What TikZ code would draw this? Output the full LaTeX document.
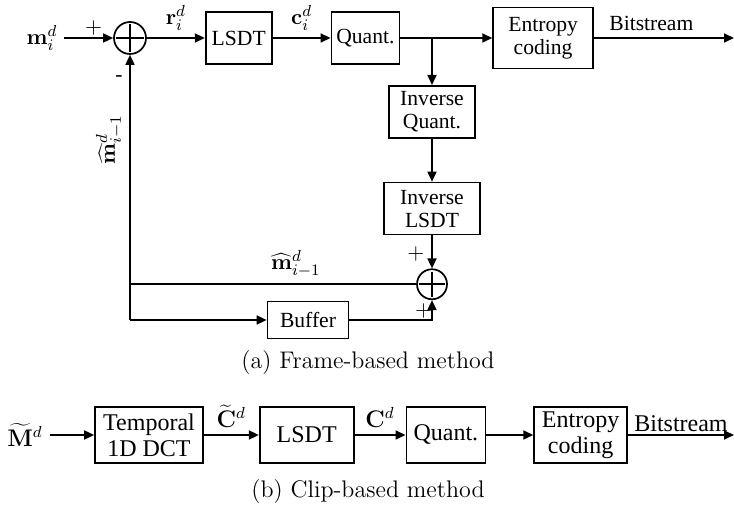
\documentclass[tikz,border=0pt]{standalone}
\usepackage[no-math]{fontspec}
\newfontfamily\tnr{Liberation Serif}
\usetikzlibrary{arrows.meta,positioning}

\begin{document}
\begin{tikzpicture}[
  x=1pt, y=1pt,
  font=\tnr\fontsize{10.8}{11.5}\selectfont,
  block/.style={draw, line width=0.85pt, minimum height=26pt, inner sep=1pt, align=center},
  big/.style={font=\tnr\fontsize{12}{13}\selectfont},
  adder/.style={circle, draw, line width=0.85pt, minimum size=16pt, inner sep=0pt,
    path picture={\draw[line width=0.85pt]
      ([yshift=-1.2pt]path picture bounding box.north) -- ([yshift=1.2pt]path picture bounding box.south)
      ([xshift=1.2pt]path picture bounding box.west) -- ([xshift=-1.2pt]path picture bounding box.east);}},
  flow/.style={-{Triangle[length=5pt,width=4.5pt]}, line width=0.85pt},
  wire/.style={line width=0.85pt},
  caption/.style={font=\rmfamily\fontsize{12}{14}\selectfont}
]
\useasboundingbox (0,0) rectangle (367,254);

% (a) frame-based
\node (min) at (21,235) {$\mathbf{m}_i^d$};
\node[adder] (sum1) at (65,235) {};
\node[block, minimum width=33pt, right=29pt of sum1] (lsdt) {LSDT};
\node[block, minimum width=34pt, right=29pt of lsdt] (quant) {Quant.};
\node[block, minimum width=50pt, minimum height=30.5pt, right=46pt of quant] (ent) {Entropy\\coding};
\coordinate (out) at (367,235);
\coordinate (br) at (216,235);
\node[block, minimum width=43pt, below=23.5pt of br] (invq) {Inverse\\Quant.};
\node[block, minimum width=48pt, below=21.5pt of invq] (invl) {Inverse\\LSDT};
\node[adder, minimum size=15pt, below=16.5pt of invl] (sum2) {};
\node[block, minimum width=40.5pt, minimum height=18.5pt] (buffer) at (154,94) {Buffer};
\coordinate (jn) at (sum1 |- buffer);

\draw[flow] (min) -- node[pos=0.6, above, inner sep=1pt] {$+$} (sum1);
\draw[flow] (sum1) -- node[above] {$\mathbf{r}_i^d$} (lsdt);
\draw[flow] (lsdt) -- node[above] {$\mathbf{c}_i^d$} (quant);
\draw[flow] (quant) -- (ent);
\draw[flow] (ent) -- node[pos=0.41, above] {Bitstream} (out);
\draw[flow] (br) -- (invq);
\draw[flow] (invq) -- (invl);
\draw[flow] (invl) -- node[pos=0.55, left] {$+$} (sum2);
\draw[wire] (sum2) -- node[pos=0.42, above] {$\widehat{\mathbf{m}}_{i-1}^d$} (sum2 -| jn);
\draw[flow] (jn) -- node[pos=0.68, rotate=90, anchor=south] {$\widehat{\mathbf{m}}_{i-1}^d$}
  node[pos=0.91, left] {-} (sum1);
\draw[flow] (jn) -- (buffer);
\draw[flow] (buffer) -| node[pos=0.45, above, inner sep=0.5pt] {$+$} (sum2);

\node[caption] (capa) at (184,72.5) {(a) Frame-based method};

% (b) clip-based
\node[big] (mt) at (12.5,36.5) {$\widetilde{\mathbf{M}}^d$};
\node[block, big, minimum width=54pt, minimum height=28pt] (tdct) at (74.5,36.5) {Temporal\\1D DCT};
\node[block, big, minimum width=47pt, minimum height=28pt, right=27.5pt of tdct] (lsdt2) {LSDT};
\node[block, big, minimum width=39.5pt, minimum height=28pt, right=25.5pt of lsdt2] (quant2) {Quant.};
\node[block, big, minimum width=46.5pt, minimum height=28pt, right=23.5pt of quant2] (ent2) {Entropy\\coding};
\coordinate (out2) at (367,36.5);

\draw[flow] (mt) -- (tdct);
\draw[flow] (tdct) -- node[above, big] {$\widetilde{\mathbf{C}}^d$} (lsdt2);
\draw[flow] (lsdt2) -- node[above, big] {$\mathbf{C}^d$} (quant2);
\draw[flow] (quant2) -- (ent2);
\draw[flow] (ent2) -- node[above, big, inner sep=1pt] {Bitstream} (out2);

\node[caption] (capb) at (184,8) {(b) Clip-based method};
\end{tikzpicture}
\end{document}
